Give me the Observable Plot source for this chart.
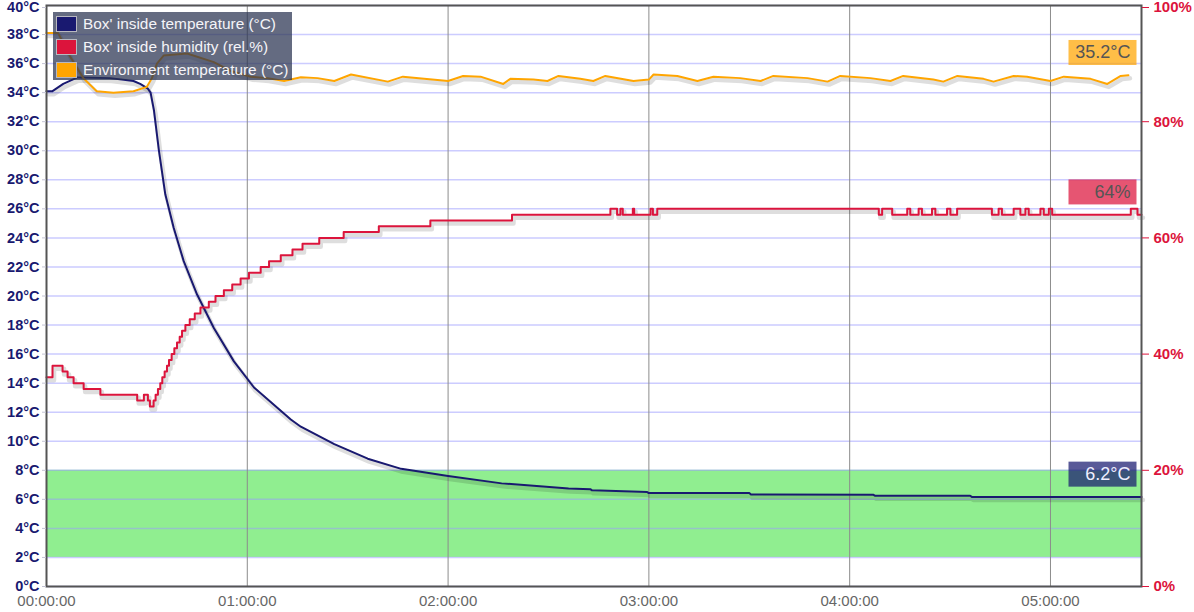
<!DOCTYPE html>
<html>
<head>
<meta charset="utf-8">
<script src="https://cdn.jsdelivr.net/npm/d3@7"></script>
<script src="https://cdn.jsdelivr.net/npm/@observablehq/plot@0.6"></script>
<style>
  body { margin: 0; background: #fff; font-family: "Liberation Sans", Arial, Helvetica, sans-serif; }
  #wrap { position: relative; width: 1194px; height: 612px; }
  #legend { position: absolute; left: 53px; top: 12px; width: 239px; height: 68px;
            background: rgba(40, 50, 80, 0.72); box-sizing: border-box; padding: 0 0 0 3px; }
  .row { display: flex; align-items: center; height: 23px; color: #f4f4f8; font-size: 15.4px; white-space: nowrap; }
  .sw { width: 19px; height: 14px; border: 1px solid #b8b8c0; margin-right: 6px; flex: none; }
</style>
</head>
<body>
<div id="wrap"><div id="legend"></div></div>
<script>
// ---------- data (time in minutes since 00:00:00) ----------
const seriesNames = ["Box' inside temperature (°C)", "Box' inside humidity (rel.%)", "Environment temperature (°C)"];
const seriesColors = ["midnightblue", "crimson", "orange"];

const boxTemp = [
  [0,34.1],[1.8,34.1],[5,34.6],[9.3,35.05],[19,35.0],[26,34.8],[28,34.6],[30.2,34.3],[31.1,34.0],
  [32.1,32.8],[33.6,30.0],[35.5,27.0],[38,24.7],[41,22.4],[45,20.1],[50,17.8],[56,15.5],[62,13.7],
  [73,11.5],[76,11.0],[86,9.8],[96,8.8],[106,8.1],[120,7.6],[136,7.1],[156,6.75],[162.5,6.7],
  [163,6.62],[172.5,6.55],[179.5,6.5],[180,6.43],[210,6.43],[210.5,6.33],[247,6.32],[247.5,6.25],
  [276,6.25],[276.5,6.17],[327.2,6.17]
];

const boxHumidity = [
  [0,36],[1.8,38],[4.8,37],[6.3,36],[8.1,35],[11.1,34],[16.1,33],[27.1,32],[29.1,33],[30.3,32],[30.9,31],
  [31.4,31],[32.0,32],[32.6,33],[33.3,34],[34.0,35],[34.6,36],[35.3,37],[36.0,38],[36.6,39],[37.4,40],
  [38.2,41],[39.0,42],[39.8,43],[40.5,44],[41.5,45],[42.8,46],[44.3,47],[46.0,48],[48.5,49],[50.5,50],
  [53.0,51],[55.5,52],[58.0,53],[60.5,54],[64.0,55],[66.5,56],[70.0,57],[73.5,58],[76.5,59],[81.5,60],
  [88.8,61],[99.3,62],[114.7,63],[139.1,64],[168.5,65],[170.5,64],[171.5,65],[172.2,64],[175.2,65],
  [175.6,64],[180.5,65],[181.2,64],[182.5,65],[248.7,64],[249.7,65],[252.7,64],[257.2,65],[258.1,64],
  [260.6,65],[261.6,64],[264.6,65],[265.6,64],[269.1,65],[270.1,64],[272.1,65],[282.5,64],[284.5,65],
  [285.5,64],[289,65],[291,64],[292.5,65],[293.5,64],[297,65],[298,64],[299.5,65],[300.5,64],[324,65],
  [326,64],[327.2,64]
];

const envTemp = [
  [0,38.1],[3.5,38.1],[7,36.5],[11,35.0],[15,34.1],[20,34.0],[26,34.1],[30,34.4],[31.5,35.0],[33,36.0],
  [35,36.55],[42,36.7],[50,36.1],[55,35.5],[61,35.1],[66,35.0],[71,34.8],[76,35.06],[81,35.0],[86,34.8],
  [91,35.25],[102,34.76],[106.5,35.1],[120,34.8],[124.5,35.15],[129.7,35.1],[136.5,34.6],[138.6,34.95],
  [145.5,34.9],[149.7,34.8],[153,35.15],[159.5,34.95],[163.4,34.8],[167,35.15],[175.4,34.8],[180,34.9],
  [181.4,35.25],[188.5,35.15],[194.5,34.8],[199.3,35.1],[207.3,35.0],[213.4,34.8],[217.2,35.15],
  [227.4,35.0],[233.4,34.76],[237.2,35.15],[246.2,35.0],[252.2,34.8],[256,35.15],[265,34.9],[268,34.76],
  [272.2,35.15],[280,34.95],[283,34.76],[289,35.15],[293,35.1],[300,34.8],[304,35.1],[312,34.95],
  [317,34.6],[321,35.15],[323.3,35.2]
];

const xMax = 327.2;
const hourTicks = [0, 60, 120, 180, 240, 300];
const tempTicks = [0,2,4,6,8,10,12,14,16,18,20,22,24,26,28,30,32,34,36,38,40];
const humidityTicks = [0, 20, 40, 60, 80, 100];
const safeBand = [[2, 8]];
const humToTemp = 0.4; // 100 % humidity <-> 40 °C on the shared vertical scale

// ---------- helpers ----------
const pad2 = n => String(n).padStart(2, "0");
const fmtTime = m => `${pad2(Math.floor(m / 60))}:${pad2(m % 60)}:00`;
const X = d => d[0];
const yT = d => d[1];
const yH = d => d[1] * humToTemp;

const shadow = (data, y, curve) =>
  Plot.line(data, {x: X, y, curve, stroke: "#000", strokeOpacity: 0.13, strokeWidth: 4.5, dx: 1.5, dy: 3});

const last = arr => arr[arr.length - 1][1];
const labels = [
  {y: last(envTemp), txt: last(envTemp).toFixed(1) + "°C", bg: "orange", fg: "#555"},
  {y: last(boxHumidity) * humToTemp, txt: Math.round(last(boxHumidity)) + "%", bg: "crimson", fg: "#555"},
  {y: last(boxTemp), txt: last(boxTemp).toFixed(1) + "°C", bg: "midnightblue", fg: "#eef"}
];

const font = "'Liberation Sans', Arial, Helvetica, sans-serif";
const topT = tempTicks[tempTicks.length - 1];
const humTickPos = humidityTicks.map(h => h * humToTemp);
const topH = humTickPos[humTickPos.length - 1];

const leftAxis = (ticks, dy) => Plot.axisY({anchor: "left", ticks, tickFormat: d => d + "°C", color: "midnightblue",
  stroke: "#c4c4d4", tickSize: 4, tickPadding: 3, fontSize: 14.5, fontWeight: "bold", label: null, dy});
const rightAxis = (ticks, dy) => Plot.axisY({anchor: "right", ticks, tickFormat: d => Math.round(d / humToTemp) + "%",
  color: "crimson", stroke: "crimson", tickSize: 7, tickPadding: 5, fontSize: 15, fontWeight: "bold", label: null, dy});

const chart = Plot.plot({
  width: 1194, height: 612,
  marginTop: 5, marginRight: 53, marginBottom: 26, marginLeft: 46,
  style: {fontFamily: font, background: "transparent", overflow: "visible"},
  x: {domain: [0, xMax], axis: null},
  y: {domain: [0, 40], axis: null},
  marks: [
    Plot.rect(safeBand, {y1: d => d[0], y2: d => d[1], fill: "#90ee90"}),
    Plot.ruleY(tempTicks, {stroke: "#9999ff", strokeOpacity: 0.5, strokeWidth: 1.5}),
    Plot.ruleX(hourTicks, {stroke: "#8c8c8c", strokeWidth: 1}),
    shadow(boxTemp, yT, "linear"),
    shadow(boxHumidity, yH, "step-after"),
    shadow(envTemp, yT, "linear"),
    Plot.line(boxTemp, {x: X, y: yT, stroke: seriesColors[0], strokeWidth: 2}),
    Plot.line(boxHumidity, {x: X, y: yH, curve: "step-after", stroke: seriesColors[1], strokeWidth: 2}),
    Plot.line(envTemp, {x: X, y: yT, stroke: seriesColors[2], strokeWidth: 2}),
    Plot.frame({stroke: "#555", strokeWidth: 2}),
    leftAxis(tempTicks.filter(t => t !== topT), 0),
    leftAxis([topT], 2),
    rightAxis(humTickPos.filter(t => t !== topH), 0),
    rightAxis([topH], 2),
    Plot.axisX({anchor: "bottom", ticks: hourTicks, tickFormat: fmtTime, color: "#666",
                tickSize: 0, tickPadding: 9, fontSize: 15, label: null}),
    ...labels.map(l => Plot.text([l], {x: () => xMax, y: d => d.y, text: d => d.txt, textAnchor: "end",
                dx: -11, dy: -22.5, fontSize: 18, fill: l.fg}))
  ]
});

const wrap = document.getElementById("wrap");
wrap.insertBefore(chart, wrap.firstChild);

// background boxes behind the value labels
Array.from(chart.querySelectorAll("text")).forEach(t => {
  const l = labels.find(l => l.txt === t.textContent);
  if (!l) return;
  const b = t.getBBox();
  const r = document.createElementNS("http://www.w3.org/2000/svg", "rect");
  const right = b.x + b.width + 6;
  r.setAttribute("x", right - 68);
  r.setAttribute("y", b.y + b.height / 2 - 12.5);
  r.setAttribute("width", 68);
  r.setAttribute("height", 25);
  r.setAttribute("fill", l.bg);
  r.setAttribute("fill-opacity", 0.72);
  const tr = t.getAttribute("transform");
  if (tr) r.setAttribute("transform", tr);
  t.parentNode.insertBefore(r, t);
});

// legend
const legend = d3.select("#legend");
seriesNames.forEach((name, i) => {
  const row = legend.append("div").attr("class", "row");
  row.append("div").attr("class", "sw").style("background", seriesColors[i]);
  row.append("span").text(name);
});
</script>
</body>
</html>
